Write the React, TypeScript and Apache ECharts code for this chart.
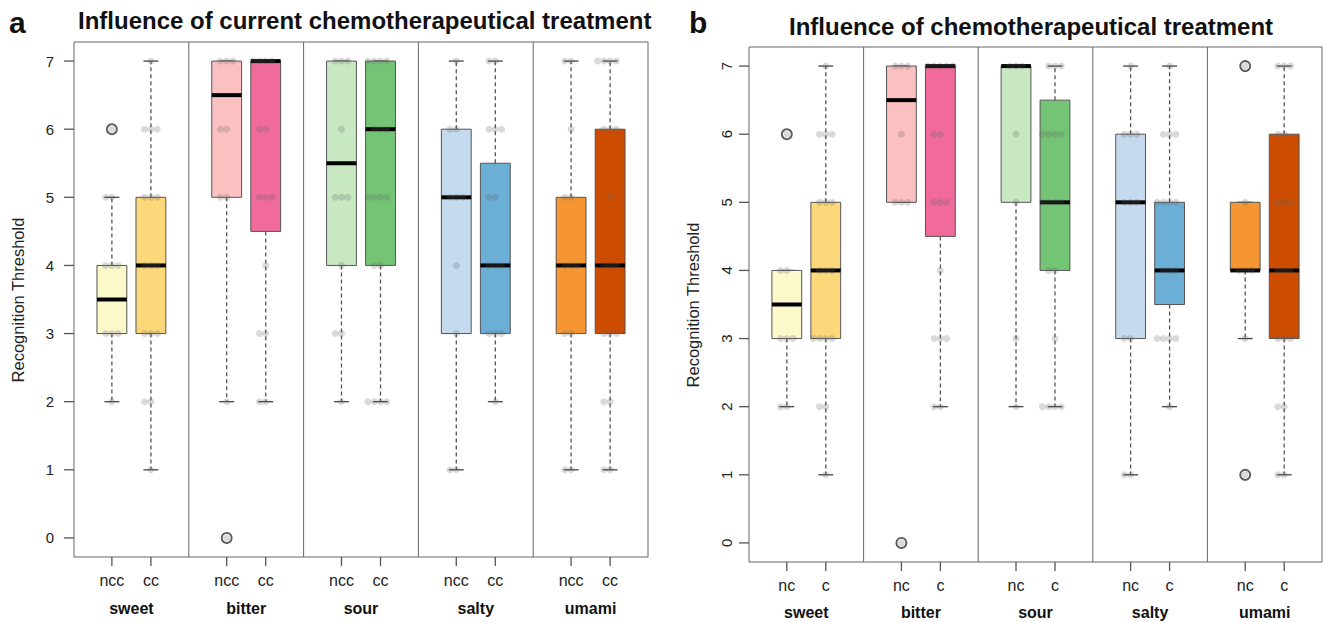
import React, { useEffect, useRef } from 'react';
import * as echarts from 'echarts';

const tastes = ['sweet', 'bitter', 'sour', 'salty', 'umami'];
const groupsA = ['ncc', 'cc'];
const groupsB = ['nc', 'c'];
const yTicks = [0, 1, 2, 3, 4, 5, 6, 7];
const titleA = 'Influence of current chemotherapeutical treatment';
const titleB = 'Influence of chemotherapeutical treatment';
const yName = 'Recognition Threshold';

// [lower whisker, Q1, median, Q3, upper whisker] per taste
const statsA_ncc = [[2, 3, 3.5, 4, 5], [2, 5, 6.5, 7, 7], [2, 4, 5.5, 7, 7], [1, 3, 5, 6, 7], [1, 3, 4, 5, 7]];
const statsA_cc = [[1, 3, 4, 5, 7], [2, 4.5, 7, 7, 7], [2, 4, 6, 7, 7], [2, 3, 4, 5.5, 7], [1, 3, 4, 6, 7]];
const statsB_nc = [[2, 3, 3.5, 4, 4], [5, 5, 6.5, 7, 7], [2, 5, 7, 7, 7], [1, 3, 5, 6, 7], [3, 4, 4, 5, 5]];
const statsB_c = [[1, 3, 4, 5, 7], [2, 4.5, 7, 7, 7], [2, 4, 5, 6.5, 7], [2, 3.5, 4, 5, 7], [1, 3, 4, 6, 7]];

const outliersA_ncc = [[6], [0], [], [], []];
const outliersA_cc = [[], [], [], [], []];
const outliersB_nc = [[6], [0], [], [], [7, 1]];
const outliersB_c = [[], [], [], [], []];

// individual observations
const pointsA_ncc = [
  [6, 5, 5, 4, 4, 4, 3, 3, 3, 2],
  [7, 7, 7, 6, 6, 5, 5, 2, 0],
  [7, 7, 7, 6, 5, 5, 5, 4, 3, 3, 2],
  [7, 6, 6, 5, 5, 5, 4, 3, 1, 1],
  [7, 7, 6, 5, 5, 4, 4, 4, 3, 3, 1, 1],
];
const pointsA_cc = [
  [7, 6, 6, 6, 5, 5, 5, 4, 4, 4, 3, 3, 3, 2, 2, 1],
  [7, 7, 7, 7, 6, 6, 5, 5, 5, 4, 3, 3, 2, 2],
  [7, 7, 7, 7, 6, 6, 6, 5, 5, 5, 5, 4, 4, 2, 2, 2, 2],
  [7, 7, 6, 6, 6, 5, 5, 4, 4, 4, 3, 3, 3, 2],
  [7, 7, 7, 7, 6, 6, 6, 5, 4, 4, 4, 3, 3, 3, 2, 2, 1, 1],
];
const pointsB_nc = [
  [6, 4, 4, 3, 3, 3, 2, 2],
  [7, 7, 7, 6, 5, 5, 5, 0],
  [7, 7, 7, 6, 5, 3, 2],
  [7, 6, 6, 6, 5, 5, 5, 3, 3, 1, 1],
  [7, 5, 4, 4, 4, 3, 1],
];
const pointsB_c = [
  [7, 6, 6, 6, 5, 5, 5, 4, 4, 4, 3, 3, 3, 3, 2, 2, 1],
  [7, 7, 7, 7, 7, 6, 6, 5, 5, 5, 4, 3, 3, 3, 2, 2],
  [7, 7, 7, 6, 6, 6, 6, 5, 5, 5, 5, 4, 4, 3, 2, 2, 2, 2],
  [7, 6, 6, 6, 5, 5, 5, 5, 4, 4, 4, 3, 3, 3, 3, 2],
  [7, 7, 7, 6, 6, 5, 5, 5, 4, 4, 4, 3, 3, 3, 2, 2, 1, 1],
];

const lightColors = ['#FBF8CA', '#FBC0C0', '#C8E8C1', '#C5DAEE', '#F59632'];
const darkColors = ['#FDD87B', '#F06B9C', '#74C476', '#6BAED6', '#CC4C02'];

const FONT = '"Liberation Sans", Arial, Helvetica, sans-serif';
const Y_MIN = -0.28;
const Y_MAX = 7.28;
const OFF = 0.17;
const HALF_W = 0.13;
const CAP_W = 0.065;

function posOf(i: number, j: number) {
  return i + 0.5 + (j === 0 ? -OFF : OFF);
}

function boxData(s0: number[][], s1: number[][]) {
  const out: any[] = [];
  tastes.forEach((_, i) => {
    out.push([posOf(i, 0), ...s0[i], i, 0]);
    out.push([posOf(i, 1), ...s1[i], i, 1]);
  });
  return out;
}

function pointData(p0: number[][], p1: number[][]) {
  const out: any[] = [];
  const pattern = [0, -1, 1, -2, 2, -0.5, 1.5, -1.5, 0.5];
  [p0, p1].forEach((pp, j) => {
    tastes.forEach((_, i) => {
      const counts: Record<number, number> = {};
      pp[i].forEach((v) => {
        const k = counts[v] || 0;
        counts[v] = k + 1;
        const jit = pattern[k % pattern.length] * 0.055;
        out.push([posOf(i, j) + jit, v]);
      });
    });
  });
  return out;
}

function outlierData(o0: number[][], o1: number[][]) {
  const out: any[] = [];
  tastes.forEach((_, i) => {
    o0[i].forEach((v) => out.push([posOf(i, 0), v]));
    o1[i].forEach((v) => out.push([posOf(i, 1), v]));
  });
  return out;
}

function renderBox(params: any, api: any) {
  const x = api.value(0);
  const lo = api.value(1);
  const q1 = api.value(2);
  const med = api.value(3);
  const q3 = api.value(4);
  const hi = api.value(5);
  const ti = api.value(6);
  const j = api.value(7);
  const fill = j === 0 ? lightColors[ti] : darkColors[ti];
  const c = (a: number, b: number) => api.coord([a, b]);
  const tl = c(x - HALF_W, q3);
  const br = c(x + HALF_W, q1);
  const children: any[] = [];
  const whisk = { stroke: '#555', lineWidth: 1.3, lineDash: [4, 3] };
  const cap = { stroke: '#444', lineWidth: 1.3 };
  if (hi > q3) {
    const a = c(x, q3), b = c(x, hi);
    children.push({ type: 'line', shape: { x1: a[0], y1: a[1], x2: b[0], y2: b[1] }, style: whisk });
  }
  if (lo < q1) {
    const a = c(x, q1), b = c(x, lo);
    children.push({ type: 'line', shape: { x1: a[0], y1: a[1], x2: b[0], y2: b[1] }, style: whisk });
  }
  const ch = c(x - CAP_W, hi), ch2 = c(x + CAP_W, hi);
  children.push({ type: 'line', shape: { x1: ch[0], y1: ch[1], x2: ch2[0], y2: ch2[1] }, style: cap });
  const cl = c(x - CAP_W, lo), cl2 = c(x + CAP_W, lo);
  children.push({ type: 'line', shape: { x1: cl[0], y1: cl[1], x2: cl2[0], y2: cl2[1] }, style: cap });
  children.push({
    type: 'rect',
    shape: { x: tl[0], y: tl[1], width: br[0] - tl[0], height: br[1] - tl[1] },
    style: { fill, stroke: '#555', lineWidth: 1 },
  });
  const m1 = c(x - HALF_W, med), m2 = c(x + HALF_W, med);
  children.push({ type: 'line', shape: { x1: m1[0], y1: m1[1], x2: m2[0], y2: m2[1] }, style: { stroke: '#000', lineWidth: 4 } });
  return { type: 'group', children };
}

function renderDivider(params: any, api: any) {
  const v = api.value(0);
  const a = api.coord([v, Y_MIN]);
  const b = api.coord([v, Y_MAX]);
  return { type: 'line', shape: { x1: a[0], y1: a[1], x2: b[0], y2: b[1] }, style: { stroke: '#666', lineWidth: 1 } };
}

const dividerData = [[1, 0], [2, 0], [3, 0], [4, 0]];

function tickPositions() {
  const out: number[] = [];
  tastes.forEach((_, i) => { out.push(posOf(i, 0)); out.push(posOf(i, 1)); });
  return out;
}
const groupCenters = tastes.map((_, i) => i + 0.5);

function nearestLabel(v: number, groups: string[]) {
  const i = Math.floor(v);
  const j = v - i < 0.5 ? 0 : 1;
  return groups[j];
}

function mainXAxis(gridIndex: number, groups: string[], margin: number) {
  return {
    type: 'value', gridIndex, min: 0, max: 5, position: 'bottom',
    axisLine: { show: false, onZero: false },
    splitLine: { show: false },
    axisTick: { show: false },
    axisLabel: {
      customValues: tickPositions(), margin, fontSize: 16, color: '#222', fontFamily: FONT,
      formatter: (v: number) => nearestLabel(v, groups),
    },
  };
}
function groupXAxis(gridIndex: number, margin: number) {
  return {
    type: 'value', gridIndex, min: 0, max: 5, position: 'bottom',
    axisLine: { show: false, onZero: false }, splitLine: { show: false }, axisTick: { show: false },
    axisLabel: {
      customValues: groupCenters, margin, fontSize: 16, fontWeight: 'bold', color: '#111', fontFamily: FONT,
      formatter: (v: number) => tastes[Math.floor(v)],
    },
  };
}
// tick marks below the frame, drawn as axis labels made of a thin box
function tickXAxis(gridIndex: number) {
  return {
    type: 'value', gridIndex, min: 0, max: 5, position: 'bottom',
    axisLine: { show: false, onZero: false }, splitLine: { show: false }, axisTick: { show: false },
    axisLabel: {
      customValues: tickPositions(), margin: 0,
      formatter: () => '{t|}',
      rich: { t: { width: 1.3, height: 9, lineHeight: 9, backgroundColor: '#555' } },
    },
  };
}
function yAx(gridIndex: number, rotate: number, margin: number) {
  return {
    type: 'value', gridIndex, min: Y_MIN, max: Y_MAX, position: 'left',
    axisLine: { show: false, onZero: false }, splitLine: { show: false },
    axisTick: { show: false },
    axisLabel: { customValues: yTicks, rotate, margin, fontSize: 15, color: '#222', fontFamily: FONT },
  };
}
// tick marks left of the frame
function tickYAxis(gridIndex: number) {
  return {
    type: 'value', gridIndex, min: Y_MIN, max: Y_MAX, position: 'left',
    axisLine: { show: false, onZero: false }, splitLine: { show: false }, axisTick: { show: false },
    axisLabel: {
      customValues: yTicks, margin: 0,
      formatter: () => '{t|}',
      rich: { t: { width: 10, height: 1.3, lineHeight: 1.3, backgroundColor: '#555' } },
    },
  };
}

function panelSeries(xi: number, yi: number, stats0: number[][], stats1: number[][], p0: number[][], p1: number[][], o0: number[][], o1: number[][]) {
  return [
    { type: 'custom', xAxisIndex: xi, yAxisIndex: yi, renderItem: renderDivider, data: dividerData, silent: true, z: 1 },
    { type: 'custom', xAxisIndex: xi, yAxisIndex: yi, renderItem: renderBox, data: boxData(stats0, stats1), z: 2 },
    {
      type: 'scatter', xAxisIndex: xi, yAxisIndex: yi, data: pointData(p0, p1), symbolSize: 7, z: 3,
      itemStyle: { color: 'rgba(100,100,100,0.3)' },
    },
    {
      type: 'scatter', xAxisIndex: xi, yAxisIndex: yi, data: outlierData(o0, o1), symbol: 'circle', symbolSize: 10, z: 4,
      itemStyle: { color: 'rgba(0,0,0,0)', borderColor: '#333', borderWidth: 1.8 },
    },
  ];
}

export default function App() {
  const ref = useRef<HTMLDivElement>(null);
  useEffect(() => {
    if (!ref.current) return;
    const chart = echarts.init(ref.current, null, { renderer: 'svg' });
    const option: any = {
      animation: false,
      textStyle: { fontFamily: FONT },
      grid: [
        { left: 74, top: 42, width: 574, height: 515, show: true, borderColor: '#666', borderWidth: 1 },
        { left: 749, top: 47, width: 573, height: 515, show: true, borderColor: '#666', borderWidth: 1 },
      ],
      xAxis: [
        mainXAxis(0, groupsA, 15),
        groupXAxis(0, 43),
        mainXAxis(1, groupsB, 15),
        groupXAxis(1, 42),
        tickXAxis(0),
        tickXAxis(1),
      ],
      yAxis: [yAx(0, 0, 20), yAx(1, 90, 15), tickYAxis(0), tickYAxis(1)],
      series: [
        ...panelSeries(0, 0, statsA_ncc, statsA_cc, pointsA_ncc, pointsA_cc, outliersA_ncc, outliersA_cc),
        ...panelSeries(2, 1, statsB_nc, statsB_c, pointsB_nc, pointsB_c, outliersB_nc, outliersB_c),
      ],
      graphic: [
        { type: 'text', x: 9, y: 22, style: { text: 'a', font: `bold 30px ${FONT}`, fill: '#111', textAlign: 'left', textVerticalAlign: 'middle' } },
        { type: 'text', x: 689, y: 22, style: { text: 'b', font: `bold 30px ${FONT}`, fill: '#111', textAlign: 'left', textVerticalAlign: 'middle' } },
        { type: 'text', x: 78, y: 20, style: { text: titleA, font: `bold 24px ${FONT}`, fill: '#111', textAlign: 'left', textVerticalAlign: 'middle' } },
        { type: 'text', x: 789, y: 26, style: { text: titleB, font: `bold 24px ${FONT}`, fill: '#111', textAlign: 'left', textVerticalAlign: 'middle' } },
        { type: 'text', x: 18, y: 300, rotation: Math.PI / 2, style: { text: yName, font: `16.5px ${FONT}`, fill: '#222', textAlign: 'center', textVerticalAlign: 'middle' } },
        { type: 'text', x: 693, y: 305, rotation: Math.PI / 2, style: { text: yName, font: `16.5px ${FONT}`, fill: '#222', textAlign: 'center', textVerticalAlign: 'middle' } },
      ],
    };
    chart.setOption(option);
    return () => chart.dispose();
  }, []);
  return <div ref={ref} style={{ position: 'absolute', left: 0, top: 0, width: 1323, height: 622, background: '#fff' }} />;
}
